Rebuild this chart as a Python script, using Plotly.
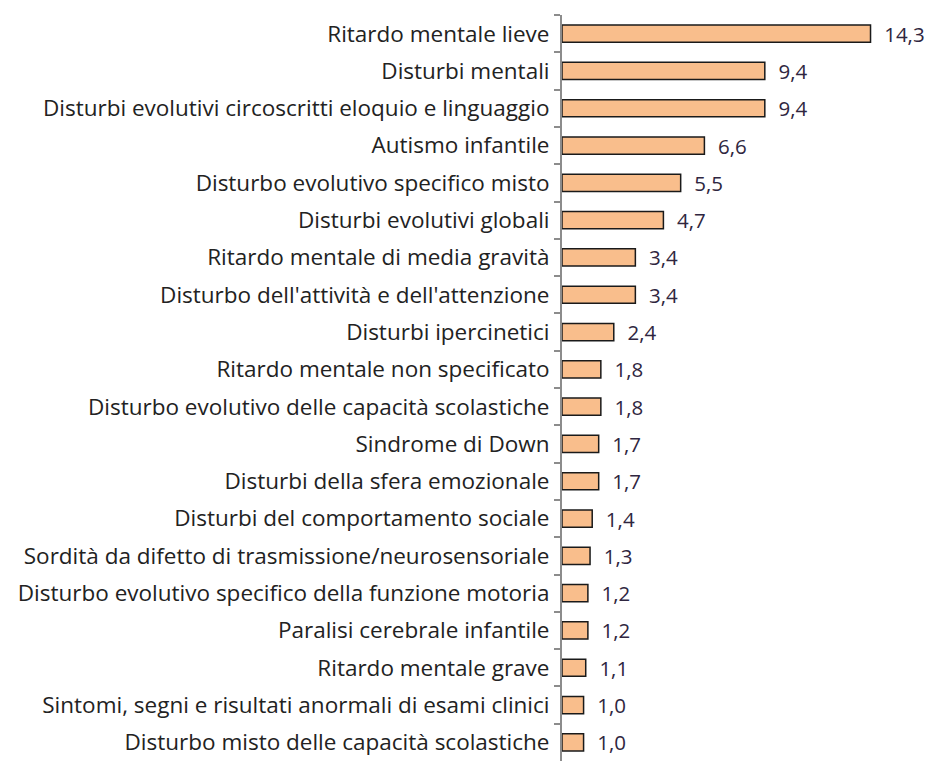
import plotly.graph_objects as go

categories = [
    "Ritardo mentale lieve",
    "Disturbi mentali",
    "Disturbi evolutivi circoscritti eloquio e linguaggio",
    "Autismo infantile",
    "Disturbo evolutivo specifico misto",
    "Disturbi evolutivi globali",
    "Ritardo mentale di media gravità",
    "Disturbo dell'attività e dell'attenzione",
    "Disturbi ipercinetici",
    "Ritardo mentale non specificato",
    "Disturbo evolutivo delle capacità scolastiche",
    "Sindrome di Down",
    "Disturbi della sfera emozionale",
    "Disturbi del comportamento sociale",
    "Sordità da difetto di trasmissione/neurosensoriale",
    "Disturbo evolutivo specifico della funzione motoria",
    "Paralisi cerebrale infantile",
    "Ritardo mentale grave",
    "Sintomi, segni e risultati anormali di esami clinici",
    "Disturbo misto delle capacità scolastiche",
]
values = [14.3, 9.4, 9.4, 6.6, 5.5, 4.7, 3.4, 3.4, 2.4, 1.8,
          1.8, 1.7, 1.7, 1.4, 1.3, 1.2, 1.2, 1.1, 1.0, 1.0]

fig = go.Figure(
    go.Bar(
        x=values,
        y=categories,
        orientation="h",
        marker=dict(color="#F9BE8C", line=dict(color="#1a1a1a", width=1.5)),
        texttemplate="  %{x:.1f}",
        textposition="outside",
        constraintext="none",
        textfont=dict(family="Open Sans", size=20.5, color="#2F2640"),
        cliponaxis=False,
    )
)

# page body adds ~8px offset, so the figure is a bit smaller than the window
fig.update_layout(
    width=925,
    height=755,
    margin=dict(l=554, r=15, t=7, b=2),
    plot_bgcolor="white",
    paper_bgcolor="white",
    separators=",.",
    bargap=0.54,
    showlegend=False,
    font=dict(family="Open Sans", size=22, color="#222222"),
)
fig.update_xaxes(range=[0, 16.5], visible=False)
fig.update_yaxes(
    autorange="reversed",
    automargin=False,
    showline=True,
    linecolor="#8c8c8c",
    linewidth=2,
    ticks="outside",
    ticklen=6,
    tickcolor="#8c8c8c",
    tickwidth=2,
    tickson="boundaries",
    ticklabelstandoff=6,
    showgrid=False,
    tickfont=dict(size=22.5),
)

fig.write_html("out.html")
